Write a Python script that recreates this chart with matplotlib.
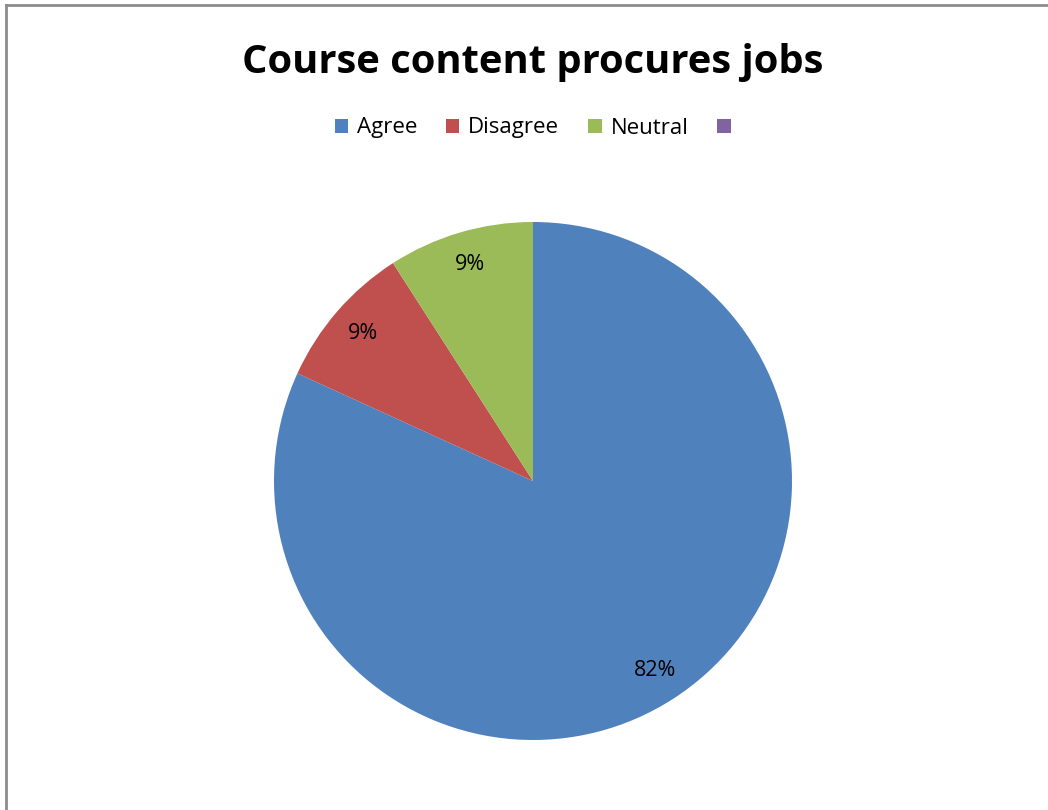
import matplotlib.pyplot as plt
from matplotlib.lines import Line2D

plt.rcParams['font.family'] = ['Open Sans', 'DejaVu Sans']

# data
labels = ['Agree', 'Disagree', 'Neutral', '']
counts = [18, 2, 2, 0]
colors = ['#4F81BD', '#C0504D', '#9BBB59', '#8064A2']
title = 'Course content procures jobs'

W, H = 1048, 810
fig = plt.figure(figsize=(W / 100, H / 100), dpi=100)

# frame around the chart area (left + top edges visible)
fig.add_artist(Line2D([6 / W, 6 / W], [0, 1 - 5 / H], color='#8c8c8c', lw=2))
fig.add_artist(Line2D([6 / W, 1], [1 - 5 / H, 1 - 5 / H], color='#8c8c8c', lw=2))

cx, cy, r = 533, 481, 259
ax = fig.add_axes([(cx - r) / W, (H - cy - r) / H, 2 * r / W, 2 * r / H])


def fmt(p):
    return f'{p:.0f}%' if p > 0 else ''


wedges, texts, autotexts = ax.pie(counts, colors=colors, startangle=90,
                                  counterclock=False, autopct=fmt,
                                  pctdistance=0.87, radius=1,
                                  textprops={'fontsize': 15.5})
ax.set_xlim(-1, 1)
ax.set_ylim(-1, 1)
ax.set_aspect('equal')
ax.axis('off')

fig.text(cx / W, 1 - 62 / H, title, ha='center', va='center',
         fontsize=28.7, fontweight='bold')

fig.legend(wedges, labels, loc='center', bbox_to_anchor=(537 / W, 1 - 128 / H),
           ncol=4, frameon=False, fontsize=16, handlelength=0.6,
           handleheight=0.6, handletextpad=0.4, columnspacing=1.3)

fig.savefig('out.png', dpi=100)
